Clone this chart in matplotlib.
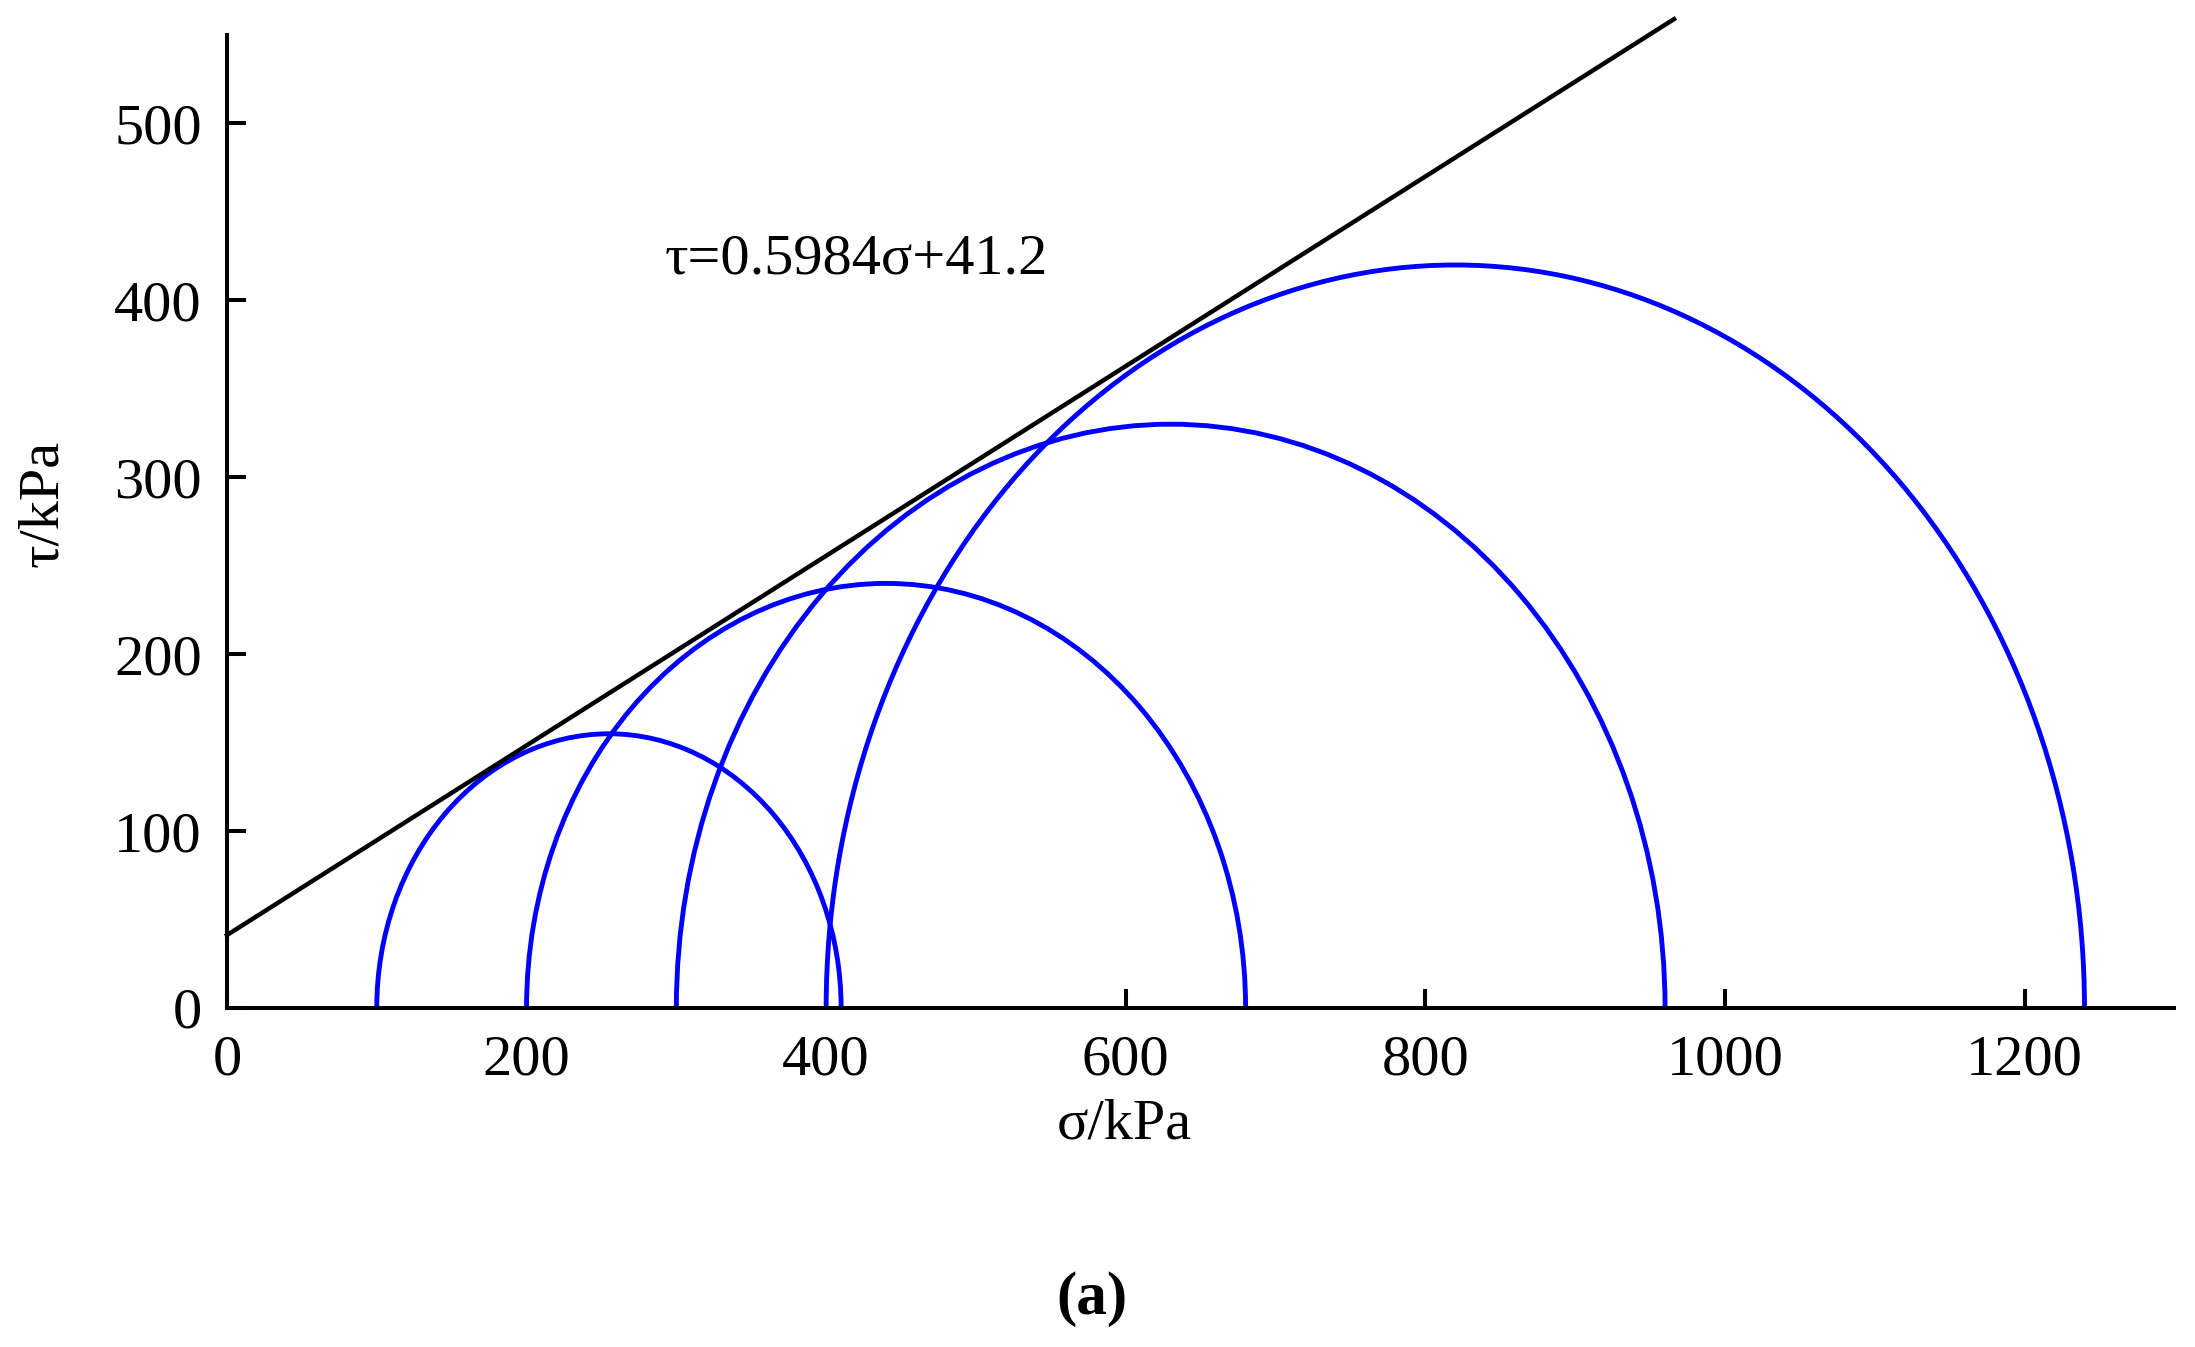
import matplotlib
matplotlib.use("Agg")
import matplotlib.pyplot as plt
from matplotlib.patches import Arc

# Mohr circles: minor and major principal stresses (kPa)
sigma3 = [100, 200, 300, 400]
sigma1 = [410, 680, 960, 1240]

# strength envelope as drawn (start and end points)
env_sigma = [0, 966]
env_tau = [41.2, 559]
env_label = "τ=0.5984σ+41.2"

x_ticks = [0, 200, 400, 600, 800, 1000, 1200]
y_ticks = [0, 100, 200, 300, 400, 500]

plt.rcParams['font.family'] = ['Liberation Serif', 'DejaVu Serif']

fig = plt.figure(figsize=(21.95, 13.47), dpi=100)
ax = fig.add_axes([0.1034, 0.2517, 0.8872, 0.7223])

# draw each circle as a half arc
for s3, s1 in zip(sigma3, sigma1):
    c = (s1 + s3) / 2
    d = s1 - s3
    ax.add_patch(Arc((c, 0), d, d, theta1=0, theta2=180,
                     color='#0000ff', lw=3.5, clip_on=False, zorder=2))

ax.plot(env_sigma, env_tau, color='black', lw=3.2, clip_on=False, zorder=3)
ax.text(292, 415, env_label, fontsize=42, va='baseline', ha='left')

ax.set_xlim(0, 1300)
ax.set_ylim(0, 550)
ax.set_xticks(x_ticks)
ax.set_yticks(y_ticks)

for side in ['top', 'right']:
    ax.spines[side].set_visible(False)
for side in ['left', 'bottom']:
    ax.spines[side].set_linewidth(2.9)

ax.tick_params(direction='in', length=14, width=2.9, labelsize=42)
ax.tick_params(axis='x', pad=19)
ax.tick_params(axis='y', pad=18)

fig.text(0.0195, 0.626, "τ/kPa", rotation=90, fontsize=42, ha='center', va='center')
fig.text(0.512, 0.1655, "σ/kPa", fontsize=42, ha='center', va='center')
fig.text(0.4975, 0.0356, "(a)", fontsize=44, fontweight='bold', ha='center', va='center')

fig.savefig("out.png", dpi=100)
